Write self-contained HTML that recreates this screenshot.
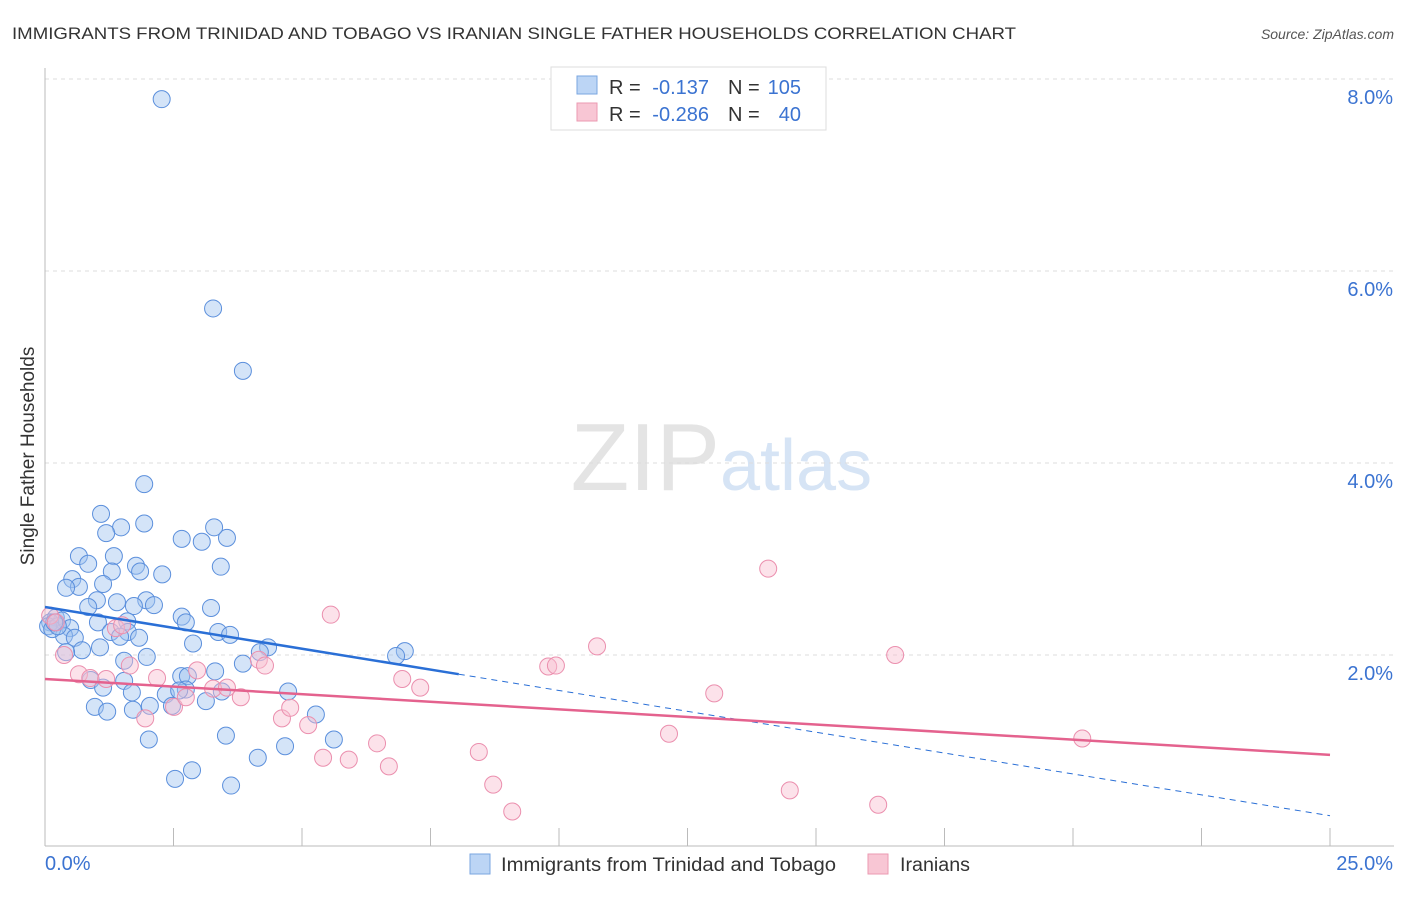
<!DOCTYPE html>
<html><head><meta charset="utf-8"><style>
body{margin:0;background:#fff;font-family:"Liberation Sans",sans-serif;}
svg text{font-family:"Liberation Sans",sans-serif;}
</style></head><body>
<svg id="chart" width="1406" height="892" xmlns="http://www.w3.org/2000/svg">
<text x="12" y="39" font-size="17" fill="#333" textLength="1004" lengthAdjust="spacingAndGlyphs">IMMIGRANTS FROM TRINIDAD AND TOBAGO VS IRANIAN SINGLE FATHER HOUSEHOLDS CORRELATION CHART</text>
<text x="1394" y="39" font-size="14" fill="#555" text-anchor="end" font-style="italic">Source: ZipAtlas.com</text>
<text x="720" y="490" font-size="96" fill="#e4e4e4" text-anchor="end" font-family="Liberation Serif">ZIP</text>
<text x="720" y="490" font-size="72" fill="#d6e4f5">atlas</text>
<text transform="translate(34,456) rotate(-90)" font-size="19" fill="#333" text-anchor="middle">Single Father Households</text>
<g id="grid"></g><g id="marks"></g>
<g>
<rect x="551" y="67" width="275" height="63" fill="#fff" stroke="#ddd"/>
<rect x="577" y="76" width="20" height="18" fill="#bcd5f5" stroke="#7aa6e0"/>
<text x="609" y="94" font-size="20" fill="#333">R =</text>
<text x="709" y="94" font-size="20" fill="#3b73d1" text-anchor="end">-0.137</text>
<text x="728" y="94" font-size="20" fill="#333">N =</text>
<text x="801" y="94" font-size="20" fill="#3b73d1" text-anchor="end">105</text>
<rect x="577" y="103" width="20" height="18" fill="#f8c6d4" stroke="#eb9ab2"/>
<text x="609" y="121" font-size="20" fill="#333">R =</text>
<text x="709" y="121" font-size="20" fill="#3b73d1" text-anchor="end">-0.286</text>
<text x="728" y="121" font-size="20" fill="#333">N =</text>
<text x="801" y="121" font-size="20" fill="#3b73d1" text-anchor="end">40</text>
</g>
<g>
<rect x="470" y="854" width="20" height="20" fill="#bcd5f5" stroke="#7aa6e0"/>
<text x="501" y="871" font-size="19" fill="#333" textLength="335" lengthAdjust="spacingAndGlyphs">Immigrants from Trinidad and Tobago</text>
<rect x="868" y="854" width="20" height="20" fill="#f8c6d4" stroke="#eb9ab2"/>
<text x="900" y="871" font-size="19" fill="#333" textLength="70" lengthAdjust="spacingAndGlyphs">Iranians</text>
</g>
</svg>
<script>
const yTicks=[2,4,6,8];
const yTickLabels=["2.0%","4.0%","6.0%","8.0%"];
const xTickLabels=["0.0%","25.0%"];
const blueX=[2.27,3.27,3.85,1.93,1.09,1.93,3.54,1.48,1.19,3.29,2.66,3.05,0.66,1.34,0.84,1.77,3.42,1.3,1.85,2.28,0.53,0.66,1.13,0.41,1.01,1.97,1.4,2.12,0.84,1.73,3.23,2.66,2.74,1.6,0.21,0.33,0.1,0.49,1.03,1.28,1.61,1.83,3.37,3.6,0.37,0.58,1.46,1.07,4.34,0.72,0.41,2.88,7.0,6.83,4.18,1.98,1.54,3.85,2.65,3.31,0.89,1.54,2.78,1.13,1.69,2.35,2.74,3.44,4.73,2.61,0.97,2.04,1.21,1.71,2.47,3.13,5.27,2.02,3.52,5.62,4.67,4.14,2.86,2.53,3.62,0.06,0.14,0.25,0.18];
const blueY=[7.79,5.61,4.96,3.78,3.47,3.37,3.22,3.33,3.27,3.33,3.21,3.18,3.03,3.03,2.95,2.93,2.92,2.87,2.87,2.84,2.79,2.71,2.74,2.7,2.57,2.57,2.55,2.52,2.5,2.51,2.49,2.4,2.34,2.35,2.39,2.36,2.34,2.28,2.34,2.24,2.24,2.18,2.24,2.21,2.2,2.18,2.19,2.08,2.08,2.05,2.03,2.12,2.04,1.99,2.03,1.98,1.94,1.91,1.78,1.83,1.74,1.73,1.78,1.66,1.61,1.59,1.64,1.62,1.62,1.63,1.46,1.47,1.41,1.43,1.47,1.52,1.38,1.12,1.16,1.12,1.05,0.93,0.8,0.71,0.64,2.3,2.27,2.3,2.34];
const pinkX=[0.1,0.21,0.37,0.66,0.88,1.19,1.38,1.5,1.65,1.95,2.18,2.51,2.74,2.96,3.27,3.54,3.81,4.16,4.28,4.61,4.77,5.12,5.41,5.56,5.91,6.46,6.69,6.95,7.3,8.44,8.72,9.09,9.79,9.94,10.74,12.14,13.02,14.07,14.49,16.21,16.54,20.18];
const pinkY=[2.41,2.34,2.0,1.8,1.76,1.75,2.28,2.31,1.89,1.34,1.76,1.46,1.56,1.84,1.65,1.66,1.56,1.95,1.89,1.34,1.45,1.27,0.93,2.42,0.91,1.08,0.84,1.75,1.66,0.99,0.65,0.37,1.88,1.89,2.09,1.18,1.6,2.9,0.59,0.44,2.0,1.13];
const blueTrend=[0,2.5,8.05,1.8];
const pinkTrend=[0,1.75,25,0.96];
const NS="http://www.w3.org/2000/svg";
const X=v=>45+v*51.4, Y=v=>847-v*96;
const grid=document.getElementById('grid'), marks=document.getElementById('marks');
function mk(tag,attrs,parent){const e=document.createElementNS(NS,tag);for(const k in attrs)e.setAttribute(k,attrs[k]);parent.appendChild(e);return e;}
yTicks.forEach((t,i)=>{
 const l=mk('line',{x1:45,x2:1394,y1:Y(t),y2:Y(t),stroke:'#ddd','stroke-dasharray':'4,4'},grid);
 
 
 const tx=mk('text',{x:1393,y:Y(t)+25,'font-size':20,fill:'#3b73d1','text-anchor':'end'},grid);
 tx.textContent=yTickLabels[i];
 
 
});
mk('line',{x1:45,x2:45,y1:68,y2:846,stroke:'#bbb'},grid);
const ax=mk('line',{x1:45,x2:1394,y1:846,y2:846,stroke:'#bbb'},grid);


for(let i=0;i<=10;i++){const t=mk('line',{x1:X(i*2.5),x2:X(i*2.5),y1:828,y2:846,stroke:'#bbb'},grid);
 
 }
[[45,'start',0],[1393,'end',1]].forEach(([x,a,i])=>{const t=mk('text',{x:x,y:870,'font-size':20,fill:'#3b73d1','text-anchor':a},grid);t.textContent=xTickLabels[i];
 
 });
blueX.forEach((v,i)=>{const c=mk('circle',{cx:X(v),cy:Y(blueY[i]),r:8.5,fill:'rgba(160,196,240,0.45)',stroke:'#5b8fdc','stroke-width':1},marks);
 
 });
pinkX.forEach((v,i)=>{const c=mk('circle',{cx:X(v),cy:Y(pinkY[i]),r:8.5,fill:'rgba(248,190,208,0.45)',stroke:'#eb8fae','stroke-width':1},marks);
 
 });
const slope=(blueTrend[3]-blueTrend[1])/(blueTrend[2]-blueTrend[0]);
const bl=mk('line',{x1:X(blueTrend[0]),y1:Y(blueTrend[1]),x2:X(blueTrend[2]),y2:Y(blueTrend[3]),stroke:'#2a6fd6','stroke-width':2.5},marks);


const bd=mk('line',{x1:X(blueTrend[2]),y1:Y(blueTrend[3]),x2:X(25),y2:Y(blueTrend[1]+slope*25),stroke:'#2a6fd6','stroke-width':1,'stroke-dasharray':'6,5'},marks);


const pl=mk('line',{x1:X(pinkTrend[0]),y1:Y(pinkTrend[1]),x2:X(pinkTrend[2]),y2:Y(pinkTrend[3]),stroke:'#e4628e','stroke-width':2.5},marks);


</script>
</body></html>
